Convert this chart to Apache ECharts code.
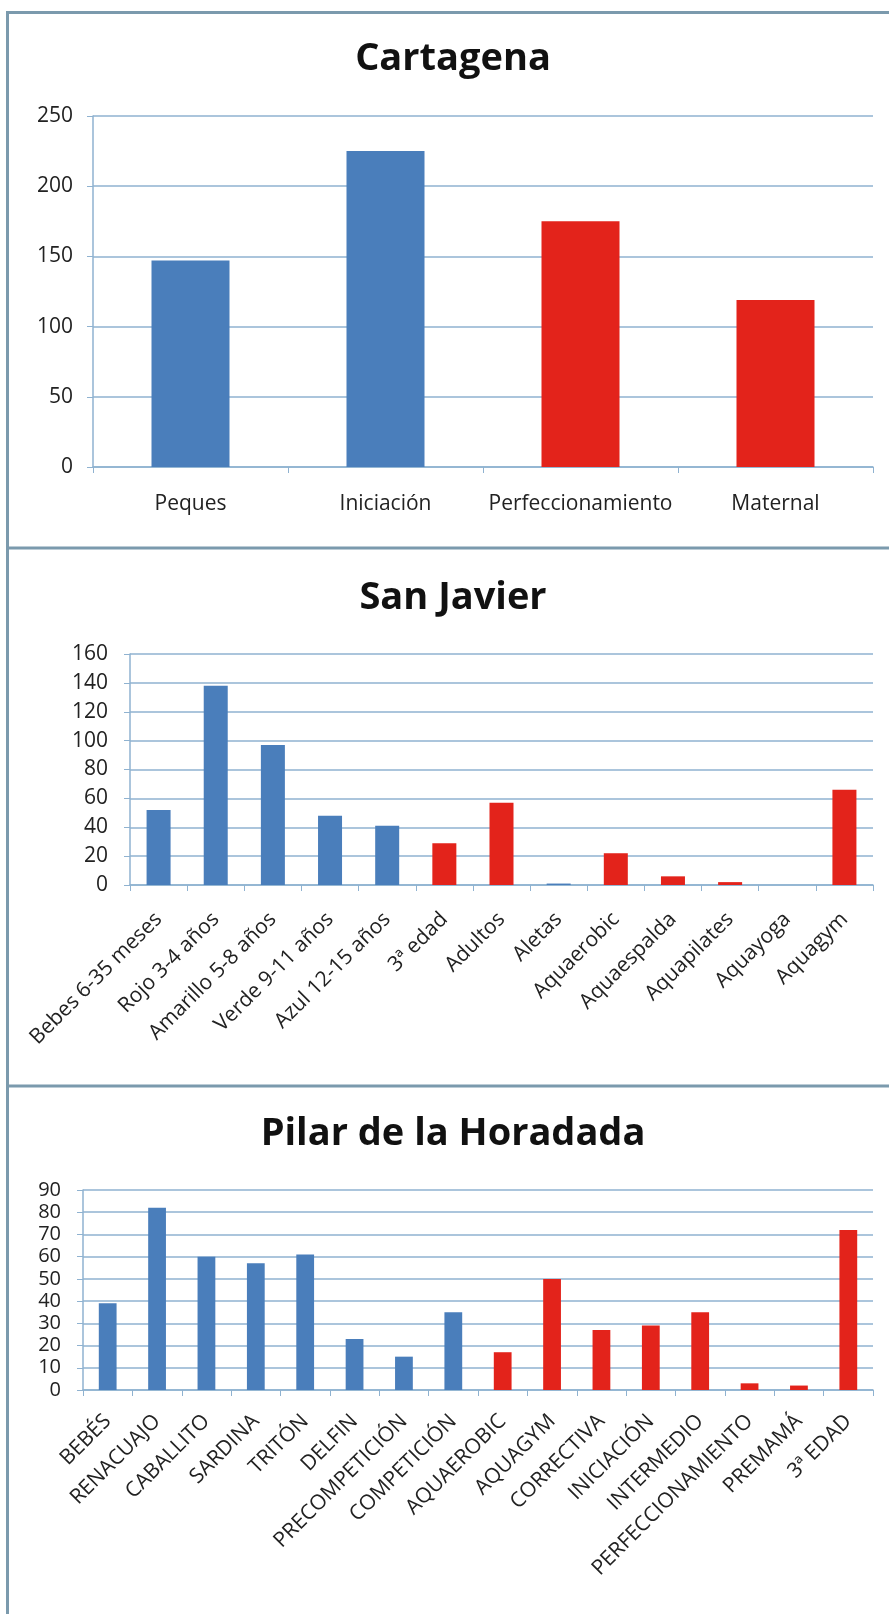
<!DOCTYPE html>
<html>
<head>
<meta charset="utf-8">
<title>Cursos de natación</title>
<script src="https://cdn.jsdelivr.net/npm/echarts@6/dist/echarts.min.js"></script>
<style>
  html, body { margin: 0; padding: 0; background: #fff; }
  #chart { width: 889px; height: 1614px; }
</style>
</head>
<body>
<div id="chart"></div>
<script>
/* ----------  Datos  ---------- */
const cartagenaCursos = ['Peques', 'Iniciación', 'Perfeccionamiento', 'Maternal'];
const cartagenaAlumnos = [147, 225, 175, 119];
const cartagenaGrupo = ['niños', 'niños', 'adultos', 'adultos'];
const cartagenaTicks = [0, 50, 100, 150, 200, 250];

const sanJavierCursos = [
  'Bebes 6-35 meses', 'Rojo 3-4 años', 'Amarillo 5-8 años', 'Verde 9-11 años',
  'Azul 12-15 años', '3ª edad', 'Adultos', 'Aletas', 'Aquaerobic',
  'Aquaespalda', 'Aquapilates', 'Aquayoga', 'Aquagym',
];
const sanJavierAlumnos = [52, 138, 97, 48, 41, 29, 57, 1, 22, 6, 2, 0, 66];
const sanJavierGrupo = [
  'niños', 'niños', 'niños', 'niños', 'niños', 'adultos', 'adultos',
  'niños', 'adultos', 'adultos', 'adultos', 'adultos', 'adultos',
];
const sanJavierTicks = [0, 20, 40, 60, 80, 100, 120, 140, 160];

const pilarCursos = [
  'BEBÉS', 'RENACUAJO', 'CABALLITO', 'SARDINA', 'TRITÓN', 'DELFIN',
  'PRECOMPETICIÓN', 'COMPETICIÓN', 'AQUAEROBIC', 'AQUAGYM', 'CORRECTIVA',
  'INICIACIÓN', 'INTERMEDIO', 'PERFECCIONAMIENTO', 'PREMAMÁ', '3ª EDAD',
];
const pilarAlumnos = [39, 82, 60, 57, 61, 23, 15, 35, 17, 50, 27, 29, 35, 3, 2, 72];
const pilarGrupo = [
  'niños', 'niños', 'niños', 'niños', 'niños', 'niños', 'niños', 'niños',
  'adultos', 'adultos', 'adultos', 'adultos', 'adultos', 'adultos', 'adultos', 'adultos',
];
const pilarTicks = [0, 10, 20, 30, 40, 50, 60, 70, 80, 90];

/* ----------  Estilo  ---------- */
const FONT = '"Open Sans", "DejaVu Sans", sans-serif';
const AZUL = '#4a7ebb';
const ROJO = '#e3231b';
const LINEA = '#8fb2d0';
const MARCO = '#7b9aad';
const TEXTO = '#222';

/* ----------  Paneles  ---------- */
const paneles = [
  { titulo: 'Cartagena', cursos: cartagenaCursos, alumnos: cartagenaAlumnos, grupo: cartagenaGrupo,
    ticks: cartagenaTicks, grid: { left: 93, top: 116, height: 351 }, tituloTop: 35,
    rotar: 0, margenX: 27, margenY: 20, fuenteX: 21, fuenteY: 21, ancho: '40%' },
  { titulo: 'San Javier', cursos: sanJavierCursos, alumnos: sanJavierAlumnos, grupo: sanJavierGrupo,
    ticks: sanJavierTicks, grid: { left: 130, top: 654, height: 231 }, tituloTop: 574,
    rotar: 45, margenX: 31, margenY: 22, fuenteX: 21, fuenteY: 21, ancho: '42%' },
  { titulo: 'Pilar de la Horadada', cursos: pilarCursos, alumnos: pilarAlumnos, grupo: pilarGrupo,
    ticks: pilarTicks, grid: { left: 83, top: 1190, height: 200 }, tituloTop: 1110,
    rotar: 45, margenX: 28, margenY: 22, fuenteX: 21, fuenteY: 20, ancho: '36%' },
];

const option = {
  backgroundColor: '#fff',
  animation: false,
  title: [],
  grid: [],
  xAxis: [],
  yAxis: [],
  series: [],
  graphic: [
    { type: 'line', shape: { x1: 6, y1: 12.5, x2: 889, y2: 12.5 }, style: { stroke: MARCO, lineWidth: 3 } },
    { type: 'line', shape: { x1: 7.5, y1: 11, x2: 7.5, y2: 1614 }, style: { stroke: MARCO, lineWidth: 3 } },
    { type: 'line', shape: { x1: 6, y1: 548, x2: 889, y2: 548 }, style: { stroke: MARCO, lineWidth: 3 } },
    { type: 'line', shape: { x1: 6, y1: 1086, x2: 889, y2: 1086 }, style: { stroke: MARCO, lineWidth: 3 } },
  ],
};

paneles.forEach((p, i) => {
  const max = p.ticks[p.ticks.length - 1];
  const paso = p.ticks[1] - p.ticks[0];

  option.title.push({
    text: p.titulo,
    left: 448,
    top: p.tituloTop,
    textAlign: 'center',
    textStyle: { fontFamily: FONT, fontSize: 38, fontWeight: 'bold', color: '#111' },
  });

  option.grid.push({ left: p.grid.left, right: 16, top: p.grid.top, height: p.grid.height });

  option.xAxis.push({
    type: 'category',
    gridIndex: i,
    data: p.cursos,
    axisLine: { lineStyle: { color: LINEA, width: 1.5 } },
    axisTick: { show: true, length: 6, lineStyle: { color: LINEA } },
    axisLabel: {
      interval: 0,
      rotate: p.rotar,
      margin: p.margenX,
      color: TEXTO,
      fontFamily: FONT,
      fontSize: p.fuenteX,
    },
  });

  option.yAxis.push({
    type: 'value',
    gridIndex: i,
    min: 0,
    max: max,
    interval: paso,
    axisLine: { show: true, lineStyle: { color: LINEA, width: 1.5 } },
    axisTick: { show: true, length: 6, lineStyle: { color: LINEA } },
    splitLine: { show: true, lineStyle: { color: LINEA, width: 1.5 } },
    axisLabel: {
      margin: p.margenY,
      color: TEXTO,
      fontFamily: FONT,
      fontSize: p.fuenteY,
    },
  });

  option.series.push({
    type: 'bar',
    xAxisIndex: i,
    yAxisIndex: i,
    barWidth: p.ancho,
    data: p.alumnos.map((v, k) => ({
      value: v,
      itemStyle: { color: p.grupo[k] === 'niños' ? AZUL : ROJO },
    })),
  });
});

const chart = echarts.init(document.getElementById('chart'), null, { renderer: 'canvas' });
chart.setOption(option);
</script>
</body>
</html>
